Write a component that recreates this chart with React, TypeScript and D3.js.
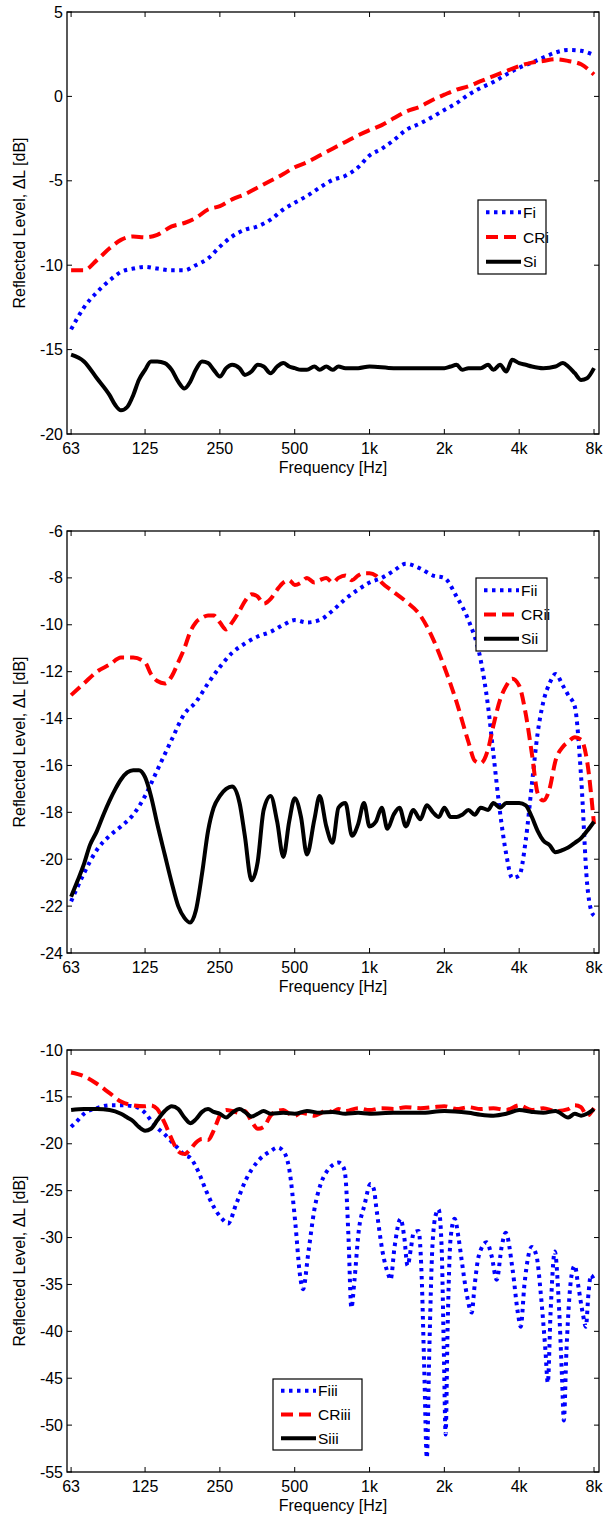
import React from 'react';
import * as d3 from 'd3';

const X_TICKS = [63, 125, 250, 500, 1000, 2000, 4000, 8000];
const X_TICK_LABELS = ['63', '125', '250', '500', '1k', '2k', '4k', '8k'];

const Y_TICKS_1 = [5, 0, -5, -10, -15, -20];
const Y_TICKS_2 = [-6, -8, -10, -12, -14, -16, -18, -20, -22, -24];
const Y_TICKS_3 = [-10, -15, -20, -25, -30, -35, -40, -45, -50, -55];

type P = [number, number];

const FI: P[] = [
  [63, -13.8], [71, -12.5], [80, -11.6], [90, -10.9], [100, -10.4], [112, -10.2], [125, -10.1],
  [140, -10.2], [160, -10.3], [180, -10.3], [200, -10.0], [224, -9.6], [250, -8.9], [280, -8.3],
  [315, -7.9], [355, -7.7], [400, -7.3], [450, -6.7], [500, -6.3], [560, -5.9], [630, -5.4],
  [710, -4.95], [800, -4.7], [900, -4.2], [1000, -3.5], [1120, -3.1], [1250, -2.6], [1400, -2.0],
  [1600, -1.6], [1800, -1.2], [2000, -0.8], [2240, -0.4], [2500, 0.1], [2800, 0.5], [3150, 0.85],
  [3550, 1.3], [4000, 1.7], [4500, 2.0], [5000, 2.3], [5600, 2.6], [6300, 2.75], [7100, 2.7], [8000, 2.45],
];
const CRI: P[] = [
  [63, -10.3], [71, -10.3], [80, -9.7], [90, -9.0], [100, -8.5], [112, -8.3], [125, -8.35],
  [140, -8.2], [160, -7.7], [180, -7.5], [200, -7.2], [224, -6.7], [250, -6.5], [280, -6.1],
  [315, -5.8], [355, -5.4], [400, -5.0], [450, -4.6], [500, -4.2], [560, -3.9], [630, -3.5],
  [710, -3.1], [800, -2.7], [900, -2.3], [1000, -2.0], [1120, -1.7], [1250, -1.3], [1400, -0.9],
  [1600, -0.6], [1800, -0.2], [2000, 0.1], [2240, 0.4], [2500, 0.6], [2800, 0.9], [3150, 1.2],
  [3550, 1.5], [4000, 1.8], [4500, 2.0], [5000, 2.1], [5600, 2.2], [6300, 2.1], [7100, 1.9], [8000, 1.3],
];
const SI: P[] = [
  [63, -15.3], [71, -15.7], [80, -16.7], [90, -17.7], [95, -18.3], [100, -18.6], [106, -18.4],
  [112, -17.7], [118, -16.8], [125, -16.2], [132, -15.7], [140, -15.7], [150, -15.8], [160, -16.2],
  [170, -16.9], [180, -17.3], [190, -16.9], [200, -16.2], [212, -15.7], [224, -15.8], [236, -16.2],
  [250, -16.6], [265, -16.1], [280, -15.9], [300, -16.1], [315, -16.5], [335, -16.3], [355, -15.9],
  [375, -16.0], [400, -16.4], [425, -16.0], [450, -15.8], [475, -16.0], [500, -16.1], [530, -16.2],
  [560, -16.2], [600, -16.0], [630, -16.2], [670, -16.0], [710, -16.2], [750, -16.0], [800, -16.1],
  [900, -16.1], [1000, -16.0], [1250, -16.1], [1600, -16.1], [2000, -16.1], [2120, -16.0],
  [2240, -15.9], [2360, -16.2], [2500, -16.1], [2800, -16.1], [3000, -15.9], [3150, -16.2],
  [3350, -15.9], [3550, -16.3], [3750, -15.6], [4000, -15.8], [4250, -15.9], [4500, -16.0],
  [5000, -16.1], [5600, -16.0], [6000, -15.8], [6300, -16.0], [6700, -16.4], [7100, -16.8],
  [7500, -16.7], [8000, -16.1],
];

const FII: P[] = [
  [63, -21.8], [71, -20.6], [80, -19.6], [90, -19.0], [100, -18.6], [112, -18.1], [125, -17.3],
  [140, -16.2], [160, -14.9], [180, -13.8], [200, -13.3], [224, -12.5], [250, -11.8], [280, -11.2],
  [315, -10.8], [355, -10.5], [400, -10.3], [450, -10.0], [500, -9.8], [560, -9.9], [630, -9.8],
  [710, -9.4], [800, -8.9], [900, -8.5], [1000, -8.2], [1120, -8.0], [1250, -7.7], [1400, -7.4],
  [1600, -7.6], [1800, -7.9], [2000, -8.0], [2240, -8.8], [2500, -9.8], [2800, -11.5], [3000, -13.5],
  [3150, -15.5], [3350, -18.0], [3550, -19.8], [3750, -20.8], [4000, -20.7], [4250, -19.2],
  [4500, -16.8], [4750, -14.6], [5000, -13.3], [5300, -12.5], [5600, -12.1], [6000, -12.6],
  [6300, -13.0], [6700, -13.5], [7100, -16.5], [7500, -21.0], [7800, -22.2], [8000, -22.4],
];
const CRII: P[] = [
  [63, -13.0], [71, -12.5], [80, -12.0], [90, -11.7], [100, -11.4], [112, -11.4], [125, -11.6],
  [132, -12.1], [140, -12.4], [150, -12.5], [160, -12.2], [170, -11.6], [180, -11.0], [190, -10.3],
  [200, -9.9], [212, -9.7], [224, -9.6], [236, -9.6], [250, -9.9], [265, -10.2], [280, -9.9],
  [300, -9.4], [315, -9.0], [335, -8.7], [355, -8.8], [375, -9.1], [400, -8.9], [425, -8.5],
  [450, -8.2], [475, -8.1], [500, -8.3], [530, -8.2], [560, -8.0], [600, -8.2], [630, -8.1],
  [670, -8.0], [710, -8.2], [750, -8.0], [800, -7.9], [850, -8.1], [900, -7.9], [950, -7.8],
  [1000, -7.8], [1060, -7.9], [1120, -8.2], [1250, -8.6], [1400, -9.0], [1600, -9.6], [1800, -10.6],
  [2000, -11.8], [2240, -13.3], [2500, -15.0], [2650, -15.8], [2800, -15.9], [3000, -15.3],
  [3150, -14.3], [3350, -13.2], [3550, -12.6], [3750, -12.3], [4000, -12.6], [4250, -13.8],
  [4500, -15.5], [4750, -17.2], [5000, -17.5], [5300, -17.0], [5600, -15.8], [6000, -15.2],
  [6300, -15.0], [6700, -14.8], [7100, -14.9], [7500, -15.8], [8000, -18.5],
];
const SII: P[] = [
  [63, -21.6], [67, -20.9], [71, -20.2], [75, -19.4], [80, -18.8], [85, -18.1], [90, -17.5],
  [95, -17.0], [100, -16.6], [106, -16.3], [112, -16.2], [118, -16.2], [125, -16.5], [132, -17.3],
  [140, -18.5], [150, -19.8], [160, -21.0], [170, -22.0], [180, -22.5], [190, -22.7], [200, -22.2],
  [212, -20.6], [224, -18.8], [236, -17.8], [250, -17.3], [265, -17.0], [280, -16.9], [300, -17.6],
  [315, -19.0], [335, -20.9], [355, -20.1], [375, -17.9], [400, -17.3], [425, -18.4], [450, -19.9],
  [475, -18.4], [500, -17.4], [530, -18.2], [560, -19.8], [600, -18.3], [630, -17.3], [670, -18.6],
  [710, -19.3], [750, -17.8], [800, -17.6], [850, -19.0], [900, -18.5], [950, -17.6], [1000, -18.6],
  [1060, -18.4], [1120, -17.8], [1180, -18.7], [1250, -18.1], [1320, -17.8], [1400, -18.6],
  [1500, -17.9], [1600, -18.3], [1700, -17.7], [1800, -18.0], [1900, -18.2], [2000, -17.8],
  [2120, -18.2], [2240, -18.2], [2360, -18.1], [2500, -17.9], [2650, -18.1], [2800, -17.8],
  [3000, -17.9], [3150, -17.6], [3350, -17.8], [3550, -17.6], [3750, -17.6], [4000, -17.6],
  [4250, -17.7], [4500, -18.2], [4750, -18.8], [5000, -19.2], [5300, -19.4], [5600, -19.7],
  [6000, -19.6], [6300, -19.5], [6700, -19.3], [7100, -19.1], [7500, -18.8], [8000, -18.4],
];

const FIII: P[] = [
  [63, -18.2], [67, -17.5], [71, -16.8], [80, -16.2], [90, -15.9], [100, -15.9], [112, -16.0],
  [125, -16.7], [132, -17.5], [140, -18.3], [150, -19.0], [160, -19.8], [170, -20.5], [180, -21.2],
  [190, -21.5], [205, -23.0], [220, -25.0], [237, -26.8], [255, -28.0], [270, -28.5], [290, -26.5],
  [316, -24.0], [357, -21.8], [399, -20.8], [426, -20.4], [450, -20.8], [476, -22.8], [503, -28.5],
  [525, -34.0], [540, -35.5], [568, -31.5], [600, -27.0], [634, -24.4], [671, -23.0], [716, -22.2],
  [750, -22.0], [785, -22.5], [800, -23.5], [823, -30.0], [845, -37.5], [870, -34.5], [903, -29.5],
  [955, -26.5], [1009, -24.3], [1040, -24.8], [1067, -27.0], [1128, -31.5], [1192, -34.0],
  [1215, -34.5], [1261, -31.0], [1333, -28.0], [1380, -30.0], [1422, -33.0], [1470, -31.0],
  [1504, -29.5], [1575, -29.3], [1620, -34.0], [1660, -44.0], [1700, -53.5], [1740, -42.0],
  [1790, -31.0], [1850, -27.5], [1896, -27.0], [1950, -31.0], [1990, -42.0], [2024, -51.0],
  [2060, -40.0], [2120, -30.0], [2200, -28.0], [2280, -30.0], [2350, -32.5], [2459, -36.0],
  [2576, -38.0], [2650, -35.0], [2748, -32.0], [2960, -30.5], [3101, -32.0], [3248, -34.5],
  [3400, -31.0], [3531, -29.5], [3767, -33.5], [3950, -38.0], [4058, -39.5], [4200, -35.0],
  [4494, -31.0], [4700, -32.0], [4887, -36.0], [5100, -42.0], [5215, -45.5], [5350, -38.0],
  [5564, -31.5], [5775, -37.0], [5950, -45.0], [6049, -49.5], [6200, -42.0], [6500, -34.0],
  [6699, -33.0], [6900, -35.0], [7200, -38.0], [7419, -39.5], [7600, -36.0], [7771, -34.0], [8000, -34.5],
];
const CRIII: P[] = [
  [63, -12.4], [71, -12.8], [80, -13.6], [90, -14.6], [100, -15.5], [112, -15.9], [125, -16.0],
  [132, -15.9], [140, -16.3], [150, -17.8], [160, -19.5], [170, -20.8], [180, -21.1], [190, -20.6],
  [200, -19.9], [212, -19.5], [224, -19.6], [236, -18.6], [250, -17.0], [265, -16.4], [280, -16.5],
  [300, -16.7], [315, -16.5], [335, -17.6], [355, -18.4], [375, -18.2], [400, -17.0], [425, -16.5],
  [450, -16.4], [475, -16.8], [500, -17.0], [530, -16.7], [560, -16.8], [600, -17.0], [630, -16.8],
  [670, -16.4], [710, -16.6], [750, -16.3], [800, -16.5], [900, -16.2], [1000, -16.4], [1120, -16.2],
  [1250, -16.3], [1400, -16.1], [1600, -16.2], [1800, -16.1], [2000, -16.0], [2240, -16.3],
  [2500, -16.1], [2800, -16.3], [3150, -16.2], [3550, -16.4], [4000, -15.9], [4500, -16.4],
  [5000, -16.2], [5600, -16.5], [6300, -16.3], [6700, -15.9], [7100, -16.1], [7500, -17.0], [8000, -16.2],
];
const SIII: P[] = [
  [63, -16.4], [71, -16.3], [80, -16.3], [90, -16.4], [100, -16.8], [106, -17.2], [112, -17.6],
  [118, -18.2], [125, -18.6], [132, -18.4], [140, -17.5], [150, -16.5], [160, -16.0], [170, -16.3],
  [180, -17.2], [190, -17.8], [200, -17.4], [212, -16.6], [224, -16.3], [236, -16.6], [250, -16.8],
  [265, -17.2], [280, -16.7], [300, -16.3], [315, -16.6], [335, -17.1], [355, -16.8], [375, -16.5],
  [400, -16.8], [450, -16.7], [500, -16.8], [560, -16.5], [630, -16.7], [710, -16.6], [800, -16.8],
  [900, -16.7], [1000, -16.8], [1250, -16.7], [1600, -16.7], [2000, -16.5], [2500, -16.7],
  [2800, -16.9], [3150, -17.0], [3550, -16.8], [4000, -16.4], [4500, -16.6], [5000, -16.7],
  [5600, -16.5], [6300, -17.2], [6700, -16.8], [7100, -17.0], [7500, -16.8], [8000, -16.3],
];

const FONT = 'Liberation Sans, Arial, Helvetica, sans-serif';
const PLOT_LEFT = 67;
const PLOT_RIGHT = 599;
const PLOT_H = 422;
const FS = 16;

type Series = { name: string; data: P[]; kind: 'dot' | 'dash' | 'solid' };

const STYLE: Record<string, { stroke: string; dash?: string; width: number }> = {
  dot: { stroke: '#0000ff', dash: '3.5,4.5', width: 4 },
  dash: { stroke: '#ff0000', dash: '12,6', width: 4 },
  solid: { stroke: '#000000', width: 4 },
};

function Panel(props: {
  top: number;
  yDomain: [number, number];
  yTicks: number[];
  series: Series[];
  legend: { x: number; y: number; w: number; h: number };
}) {
  const { top, yDomain, yTicks, series, legend } = props;
  const bottom = top + PLOT_H;
  const x = d3.scaleLog().domain([63, 8000]).range([71.1, 594]);
  const y = d3.scaleLinear().domain(yDomain).range([bottom, top]);
  const line = d3
    .line<P>()
    .x((d) => x(d[0]))
    .y((d) => y(d[1]))
    .curve(d3.curveMonotoneX);
  const tl = 5;
  const rowH = legend.h / 3;
  return (
    <g>
      {series.map((s) => {
        const st = STYLE[s.kind];
        return (
          <path
            key={s.name}
            d={line(s.data) || ''}
            fill="none"
            stroke={st.stroke}
            strokeWidth={st.width}
            strokeDasharray={st.dash}
            strokeLinejoin="round"
          />
        );
      })}
      <rect x={PLOT_LEFT} y={top} width={PLOT_RIGHT - PLOT_LEFT} height={PLOT_H} fill="none" stroke="#000" strokeWidth={1.3} />
      {X_TICKS.map((t, i) => (
        <g key={'x' + t}>
          <line x1={x(t)} x2={x(t)} y1={bottom} y2={bottom - tl} stroke="#000" strokeWidth={1} />
          <line x1={x(t)} x2={x(t)} y1={top} y2={top + tl} stroke="#000" strokeWidth={1} />
          <text x={x(t)} y={bottom + 20} textAnchor="middle" fontSize={FS} fontFamily={FONT}>
            {X_TICK_LABELS[i]}
          </text>
        </g>
      ))}
      {yTicks.map((t) => (
        <g key={'y' + t}>
          <line x1={PLOT_LEFT} x2={PLOT_LEFT + tl} y1={y(t)} y2={y(t)} stroke="#000" strokeWidth={1} />
          <line x1={PLOT_RIGHT} x2={PLOT_RIGHT - tl} y1={y(t)} y2={y(t)} stroke="#000" strokeWidth={1} />
          <text x={63} y={y(t)} dy="0.35em" textAnchor="end" fontSize={FS} fontFamily={FONT}>
            {t}
          </text>
        </g>
      ))}
      <text x={(PLOT_LEFT + PLOT_RIGHT) / 2} y={bottom + 39} textAnchor="middle" fontSize={FS} fontFamily={FONT}>
        Frequency [Hz]
      </text>
      <text
        transform={`translate(25,${(top + bottom) / 2}) rotate(-90)`}
        textAnchor="middle"
        fontSize={FS}
        fontFamily={FONT}
      >
        Reflected Level, ΔL [dB]
      </text>
      <rect x={legend.x} y={legend.y} width={legend.w} height={legend.h} fill="#fff" stroke="#000" strokeWidth={1.2} />
      {series.map((s, i) => {
        const st = STYLE[s.kind];
        const cy = legend.y + rowH * (i + 0.5);
        return (
          <g key={'l' + s.name}>
            <line
              x1={legend.x + 8}
              x2={legend.x + 43}
              y1={cy}
              y2={cy}
              stroke={st.stroke}
              strokeWidth={st.width}
              strokeDasharray={st.dash}
            />
            <text x={legend.x + 45} y={cy} dy="0.36em" fontSize={15.5} fontFamily={FONT}>
              {s.name}
            </text>
          </g>
        );
      })}
    </g>
  );
}

export default function App() {
  return (
    <svg
      width={605}
      height={1517}
      style={{ position: 'absolute', left: 0, top: 0, background: '#fff' }}
    >
      <rect x={0} y={0} width={605} height={1517} fill="#fff" />
      <Panel
        top={12}
        yDomain={[-20, 5]}
        yTicks={Y_TICKS_1}
        series={[
          { name: 'Fi', data: FI, kind: 'dot' },
          { name: 'CRi', data: CRI, kind: 'dash' },
          { name: 'Si', data: SI, kind: 'solid' },
        ]}
        legend={{ x: 478, y: 200, w: 68, h: 74 }}
      />
      <Panel
        top={531}
        yDomain={[-24, -6]}
        yTicks={Y_TICKS_2}
        series={[
          { name: 'Fii', data: FII, kind: 'dot' },
          { name: 'CRii', data: CRII, kind: 'dash' },
          { name: 'Sii', data: SII, kind: 'solid' },
        ]}
        legend={{ x: 476, y: 578, w: 71, h: 73 }}
      />
      <Panel
        top={1050}
        yDomain={[-55, -10]}
        yTicks={Y_TICKS_3}
        series={[
          { name: 'Fiii', data: FIII, kind: 'dot' },
          { name: 'CRiii', data: CRIII, kind: 'dash' },
          { name: 'Siii', data: SIII, kind: 'solid' },
        ]}
        legend={{ x: 273, y: 1379, w: 89, h: 71 }}
      />
    </svg>
  );
}
